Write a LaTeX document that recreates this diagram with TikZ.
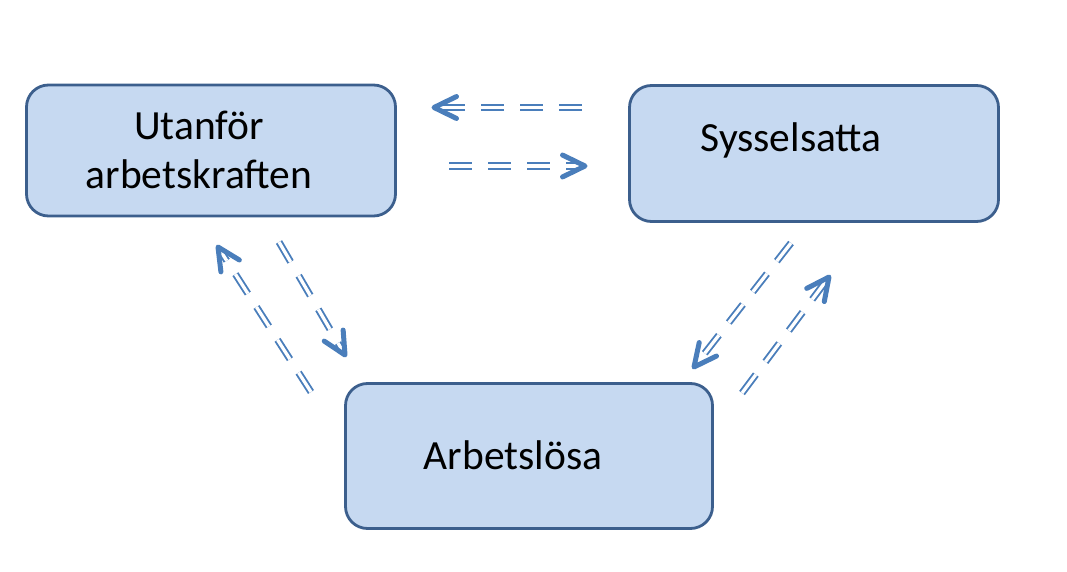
\documentclass[tikz,border=0pt]{standalone}
\usepackage{fontspec}
\setmainfont{Carlito}
\usetikzlibrary{calc}
\definecolor{boxfill}{HTML}{C6D9F1}
\definecolor{boxline}{HTML}{3C5F8D}
\definecolor{arrowc}{HTML}{4A7EBB}
\tikzset{
  statebox/.style={draw=boxline, fill=boxfill, line width=2.8pt, rounded corners=22pt, minimum width=#1, inner sep=0pt},
  boxtext/.style={anchor=base, font=\fontsize{41.5}{48}\selectfont, inner sep=0pt},
  shaft/.style={draw=arrowc, line width=1.9pt, double=white, double distance=3.3pt, dash pattern=on 23pt off 16pt},
  chevron/.style={draw=arrowc, line width=5pt, line cap=round, line join=round}
}
\newcommand{\flowarrow}[2]{%
  \draw[shaft] (#1) -- ($(#2)!6pt!(#1)$);
  \draw[chevron] ($(#2)!25pt!26:(#1)$) -- (#2) -- ($(#2)!25pt!-26:(#1)$);
}
\begin{document}
\begin{tikzpicture}[x=1pt, y=-1pt]
\useasboundingbox (0,0) rectangle (1067,572);
% boxes
\node[statebox=369pt, minimum height=131pt] (utan) at (211,150.5) {};
\node[statebox=369pt, minimum height=136pt] (syss) at (814,153.5) {};
\node[statebox=367pt, minimum height=145pt] (arb) at (529,456) {};
% texts
\node[boxtext] (t1) at (199,140) {Utanför};
\node[boxtext] (t2) at (199,188) {arbetskraften};
\node[boxtext] (t3) at (791,152) {Sysselsatta};
\node[boxtext] (t4) at (513,469) {Arbetslösa};
% arrow coordinates
\coordinate (a1s) at (582,107.5);
\coordinate (a1e) at (434,107.5);
\coordinate (a2s) at (449,166);
\coordinate (a2e) at (585,166);
\coordinate (a3s) at (279,242);
\coordinate (a3e) at (345,355);
\coordinate (a4s) at (311,392);
\coordinate (a4e) at (218,247);
\coordinate (a5s) at (791,243);
\coordinate (a5e) at (694,367);
\coordinate (a6s) at (742,393);
\coordinate (a6e) at (829,277);
\flowarrow{a1s}{a1e}
\flowarrow{a2s}{a2e}
\flowarrow{a3s}{a3e}
\flowarrow{a4s}{a4e}
\flowarrow{a5s}{a5e}
\flowarrow{a6s}{a6e}
\end{tikzpicture}
\end{document}
